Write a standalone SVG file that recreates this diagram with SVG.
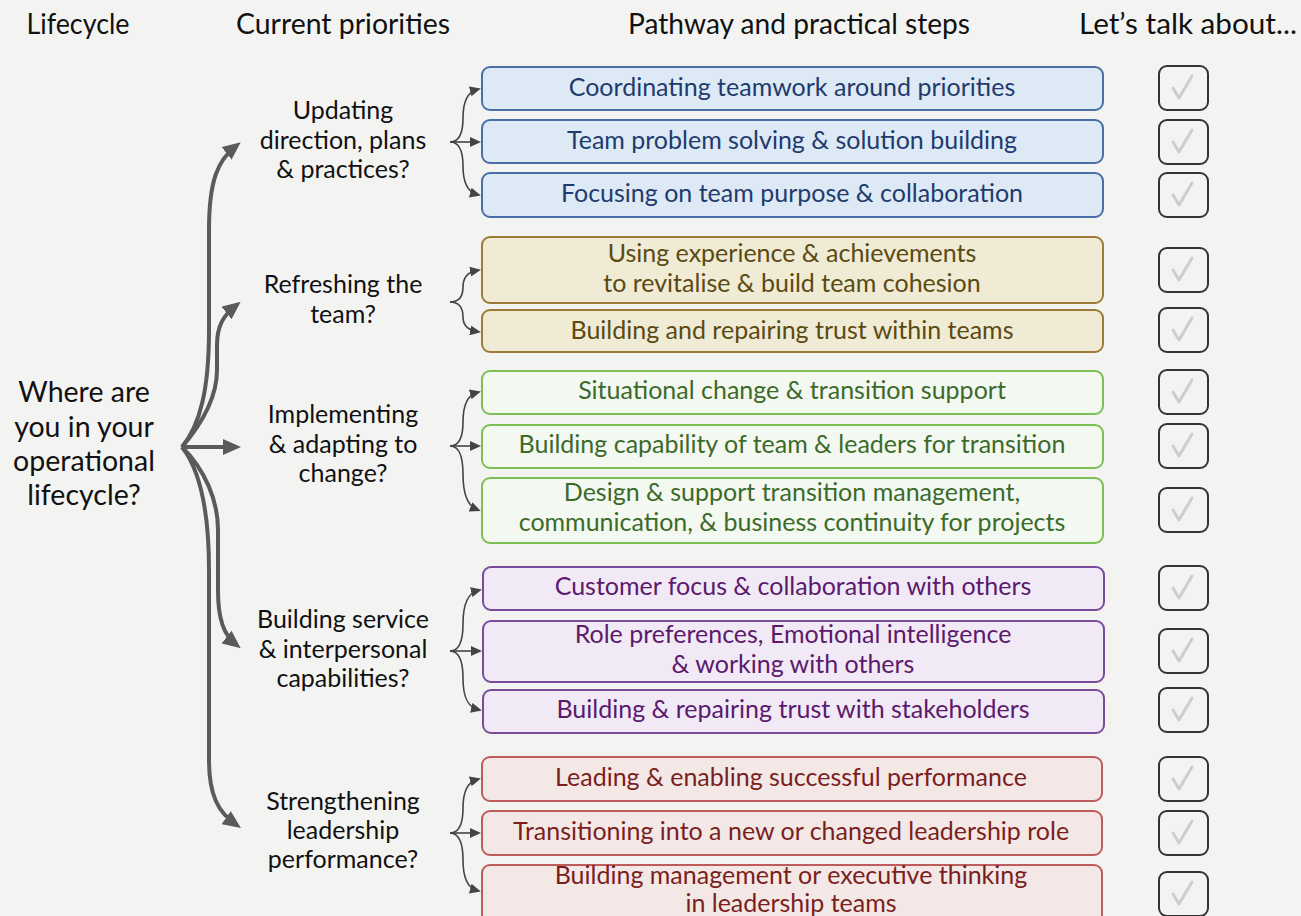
<svg xmlns="http://www.w3.org/2000/svg" width="1301" height="916" viewBox="0 0 1301 916">
<defs>
<style>
text{font-family:"Lato","Open Sans","Liberation Sans",sans-serif;}
.hdr{font-size:28px;fill:#111;text-anchor:middle;}
.lc{font-size:28.5px;fill:#111;text-anchor:middle;}
.pr{font-size:25px;fill:#111;text-anchor:middle;}
.bx{font-size:25px;text-anchor:middle;}
.thick{fill:none;stroke:#5a5a5a;stroke-width:4;}
.thin{fill:none;stroke:#444;stroke-width:1.6;}
.blue rect{fill:#dde9f4;stroke:#4a6ea8;stroke-width:2;}
.blue text{fill:#1f3b6e;}
.olive rect{fill:#efebd5;stroke:#9b7b35;stroke-width:2;}
.olive text{fill:#5b4a12;}
.green rect{fill:#f3f8f0;stroke:#7bbf55;stroke-width:2;}
.green text{fill:#3b6a2b;}
.purple rect{fill:#f1e9f6;stroke:#7a4b9a;stroke-width:2;}
.purple text{fill:#5b1a6b;}
.red rect{fill:#f3e8e5;stroke:#bf5b5b;stroke-width:2;}
.red text{fill:#7b1e1e;}
.cb rect{fill:none;stroke:#333;stroke-width:2;}
.cb path{fill:none;stroke:#cdcdcd;stroke-width:3;stroke-linecap:round;stroke-linejoin:round;}
</style>
<marker id="big" markerUnits="userSpaceOnUse" markerWidth="18" markerHeight="16" refX="12" refY="8" orient="auto">
<path d="M0,0 L18,8 L0,16 z" fill="#5a5a5a"/>
</marker>
<marker id="small" markerUnits="userSpaceOnUse" markerWidth="11" markerHeight="10" refX="7" refY="5" orient="auto">
<path d="M0,0 L11,5 L0,10 z" fill="#444"/>
</marker>
</defs>
<rect x="0" y="0" width="1301" height="916" fill="#f3f4f2"/>

<g id="headers">
<text class="hdr" x="78" y="34" textLength="103" lengthAdjust="spacingAndGlyphs">Lifecycle</text>
<text class="hdr" x="343" y="34" textLength="214" lengthAdjust="spacingAndGlyphs">Current priorities</text>
<text class="hdr" x="799" y="34" textLength="342" lengthAdjust="spacingAndGlyphs">Pathway and practical steps</text>
<text class="hdr" x="1188" y="34" textLength="218" lengthAdjust="spacingAndGlyphs">Let’s talk about...</text>
</g>

<g id="lifecycle">
<text class="lc" x="84" y="402">Where are</text>
<text class="lc" x="84" y="437">you in your</text>
<text class="lc" x="84" y="471">operational</text>
<text class="lc" x="84" y="505">lifecycle?</text>
</g>

<g id="priority-updating">
<text class="pr" x="343" y="119">Updating</text>
<text class="pr" x="343" y="149">direction, plans</text>
<text class="pr" x="343" y="178">&amp; practices?</text>
</g>
<g id="priority-refreshing">
<text class="pr" x="343" y="293">Refreshing the</text>
<text class="pr" x="343" y="323">team?</text>
</g>
<g id="priority-implementing">
<text class="pr" x="343" y="423">Implementing</text>
<text class="pr" x="343" y="453">&amp; adapting to</text>
<text class="pr" x="343" y="482">change?</text>
</g>
<g id="priority-building">
<text class="pr" x="343" y="628">Building service</text>
<text class="pr" x="343" y="658">&amp; interpersonal</text>
<text class="pr" x="343" y="687">capabilities?</text>
</g>
<g id="priority-strengthening">
<text class="pr" x="343" y="810">Strengthening</text>
<text class="pr" x="343" y="839">leadership</text>
<text class="pr" x="343" y="868">performance?</text>
</g>

<g id="connectors">
<path class="thick" marker-end="url(#big)" d="M182,447 C200,425 209,390 209,330 L209,230 C209,180 218,160 236,146"/>
<path class="thick" marker-end="url(#big)" d="M182,447 C205,420 217,395 217,370 L217,345 C217,325 224,315 236,305.5"/>
<path class="thick" marker-end="url(#big)" d="M182,447 L235,447"/>
<path class="thick" marker-end="url(#big)" d="M182,447 C205,470 218,500 218,530 L218,590 C218,620 224,635 236,644.5"/>
<path class="thick" marker-end="url(#big)" d="M182,447 C200,470 209,510 209,570 L209,760 C209,795 218,812 236,824.5"/>

<path class="thin" marker-end="url(#small)" d="M450,142 C459,142 463,134 463,118 C463,100 468,92 477,89.5"/>
<path class="thin" marker-end="url(#small)" d="M450,142 L477,142"/>
<path class="thin" marker-end="url(#small)" d="M450,142 C459,142 463,150 463,166 C463,184 468,192 477,194.5"/>

<path class="thin" marker-end="url(#small)" d="M450,302 C459,302 463,296 463,287 C463,277 468,272 477,270.5"/>
<path class="thin" marker-end="url(#small)" d="M450,302 C459,302 463,308 463,317 C463,326 468,330 477,331.5"/>

<path class="thin" marker-end="url(#small)" d="M450,446 C459,446 463,438 463,422 C463,404 468,395 477,392.5"/>
<path class="thin" marker-end="url(#small)" d="M450,446 L477,446"/>
<path class="thin" marker-end="url(#small)" d="M450,446 C459,446 463,456 463,474 C463,496 468,506 477,509.5"/>

<path class="thin" marker-end="url(#small)" d="M450,651 C459,651 463,642 463,624 C463,603 468,593 478,590.5"/>
<path class="thin" marker-end="url(#small)" d="M450,651 L478,651"/>
<path class="thin" marker-end="url(#small)" d="M450,651 C459,651 463,660 463,678 C463,698 468,707 478,709.5"/>

<path class="thin" marker-end="url(#small)" d="M450,833 C459,833 463,825 463,808 C463,790 468,782 477,779.5"/>
<path class="thin" marker-end="url(#small)" d="M450,833 L477,833"/>
<path class="thin" marker-end="url(#small)" d="M450,833 C459,833 463,842 463,860 C463,879 468,888 477,890.5"/>
</g>

<g id="step-coordinating" class="blue"><rect x="482" y="67" width="621" height="43" rx="8"/><text class="bx" x="792" y="96">Coordinating teamwork around priorities</text></g>
<g id="step-problem-solving" class="blue"><rect x="482" y="120" width="621" height="43" rx="8"/><text class="bx" x="792" y="149">Team problem solving &amp; solution building</text></g>
<g id="step-purpose" class="blue"><rect x="482" y="173" width="621" height="44" rx="8"/><text class="bx" x="792" y="202">Focusing on team purpose &amp; collaboration</text></g>

<g id="step-experience" class="olive"><rect x="482" y="237" width="621" height="66" rx="8"/><text class="bx" x="792" y="262">Using experience &amp; achievements</text><text class="bx" x="792" y="292">to revitalise &amp; build team cohesion</text></g>
<g id="step-trust-teams" class="olive"><rect x="482" y="310" width="621" height="42" rx="8"/><text class="bx" x="792" y="339">Building and repairing trust within teams</text></g>

<g id="step-situational" class="green"><rect x="482" y="371" width="621" height="43" rx="8"/><text class="bx" x="792" y="399">Situational change &amp; transition support</text></g>
<g id="step-capability" class="green"><rect x="482" y="425" width="621" height="43" rx="8"/><text class="bx" x="792" y="453">Building capability of team &amp; leaders for transition</text></g>
<g id="step-design" class="green"><rect x="482" y="478" width="621" height="65" rx="8"/><text class="bx" x="792" y="501">Design &amp; support transition management,</text><text class="bx" x="792" y="531">communication, &amp; business continuity for projects</text></g>

<g id="step-customer" class="purple"><rect x="483" y="567" width="621" height="43" rx="8"/><text class="bx" x="793" y="595">Customer focus &amp; collaboration with others</text></g>
<g id="step-role" class="purple"><rect x="483" y="621" width="621" height="61" rx="8"/><text class="bx" x="793" y="643">Role preferences, Emotional intelligence</text><text class="bx" x="793" y="673">&amp; working with others</text></g>
<g id="step-trust-stakeholders" class="purple"><rect x="483" y="690" width="621" height="43" rx="8"/><text class="bx" x="793" y="718">Building &amp; repairing trust with stakeholders</text></g>

<g id="step-leading" class="red"><rect x="482" y="757" width="620" height="44" rx="8"/><text class="bx" x="791" y="786">Leading &amp; enabling successful performance</text></g>
<g id="step-transitioning" class="red"><rect x="482" y="811" width="620" height="44" rx="8"/><text class="bx" x="791" y="840">Transitioning into a new or changed leadership role</text></g>
<g id="step-executive" class="red"><rect x="482" y="865" width="620" height="70" rx="8"/><text class="bx" x="791" y="884">Building management or executive thinking</text><text class="bx" x="791" y="912">in leadership teams</text></g>

<g id="checkboxes" class="cb">
<g id="cb1"><rect x="1159" y="66" width="49" height="44" rx="8"/><path d="M1173,88 L1179,98 L1192,76"/></g>
<g id="cb2"><rect x="1159" y="120" width="49" height="44" rx="8"/><path d="M1173,142 L1179,152 L1192,130"/></g>
<g id="cb3"><rect x="1159" y="173" width="49" height="44" rx="8"/><path d="M1173,195 L1179,205 L1192,183"/></g>
<g id="cb4"><rect x="1159" y="248" width="49" height="44" rx="8"/><path d="M1173,270 L1179,280 L1192,258"/></g>
<g id="cb5"><rect x="1159" y="308" width="49" height="44" rx="8"/><path d="M1173,330 L1179,340 L1192,318"/></g>
<g id="cb6"><rect x="1159" y="370" width="49" height="44" rx="8"/><path d="M1173,392 L1179,402 L1192,380"/></g>
<g id="cb7"><rect x="1159" y="424" width="49" height="44" rx="8"/><path d="M1173,446 L1179,456 L1192,434"/></g>
<g id="cb8"><rect x="1159" y="488" width="49" height="44" rx="8"/><path d="M1173,510 L1179,520 L1192,498"/></g>
<g id="cb9"><rect x="1159" y="566" width="49" height="44" rx="8"/><path d="M1173,588 L1179,598 L1192,576"/></g>
<g id="cb10"><rect x="1159" y="629" width="49" height="44" rx="8"/><path d="M1173,651 L1179,661 L1192,639"/></g>
<g id="cb11"><rect x="1159" y="688" width="49" height="44" rx="8"/><path d="M1173,710 L1179,720 L1192,698"/></g>
<g id="cb12"><rect x="1159" y="757" width="49" height="44" rx="8"/><path d="M1173,779 L1179,789 L1192,767"/></g>
<g id="cb13"><rect x="1159" y="811" width="49" height="44" rx="8"/><path d="M1173,833 L1179,843 L1192,821"/></g>
<g id="cb14"><rect x="1159" y="872" width="49" height="44" rx="8"/><path d="M1173,894 L1179,904 L1192,882"/></g>
</g>
</svg>
